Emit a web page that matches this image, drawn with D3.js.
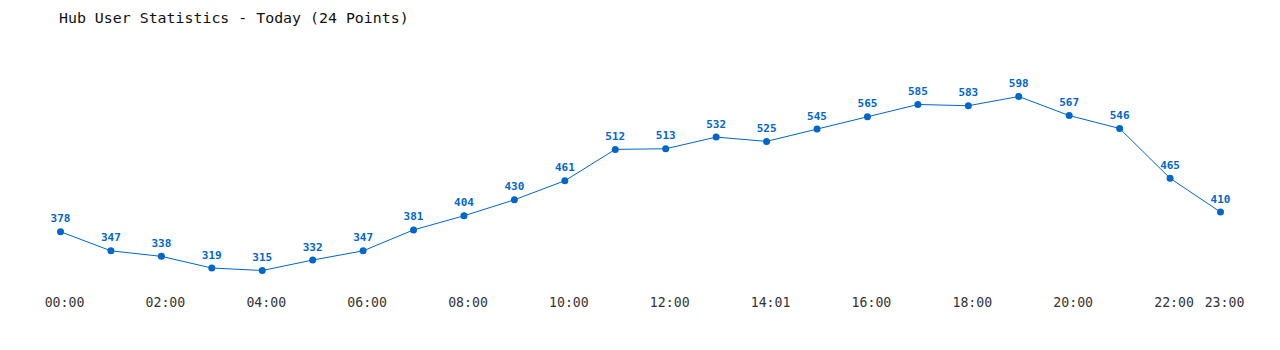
<!DOCTYPE html>
<html>
<head>
<meta charset="utf-8">
<script src="https://cdn.jsdelivr.net/npm/d3@7"></script>
<style>
  body { margin: 0; background: #fff; }
  svg { display: block; }
</style>
</head>
<body>
<svg id="chart" width="1280" height="350"></svg>
<script>
var hours = ['00:00','01:00','02:00','03:00','04:00','05:00','06:00','07:00','08:00','09:00','10:00','11:00',
             '12:00','13:00','14:01','15:00','16:00','17:00','18:00','19:00','20:00','21:00','22:00','23:00'];
var users = [378, 347, 338, 319, 315, 332, 347, 381, 404, 430, 461, 512,
             513, 532, 525, 545, 565, 585, 583, 598, 567, 546, 465, 410];
var tickHours = ['00:00','02:00','04:00','06:00','08:00','10:00','12:00','14:01','16:00','18:00','20:00','22:00','23:00'];

var svg = d3.select('#chart'),
    blue = '#0066cc';

var x = d3.scalePoint()
    .domain(hours)
    .range([60.5, 1220.5]);

var y = d3.scaleLinear()
    .domain(d3.extent(users))
    .range([270.5, 96.5]);

svg.append('text')
    .attr('x', 59)
    .attr('y', 23)
    .attr('font-family', 'DejaVu Sans Mono, monospace')
    .attr('font-size', 14.9)
    .attr('fill', '#111')
    .text('Hub User Statistics - Today (24 Points)');

// x axis labels only, no line
var axis = svg.append('g')
    .attr('transform', 'translate(0,290)')
    .call(d3.axisBottom(x).tickValues(tickHours).tickSize(0).tickPadding(8));
axis.select('.domain').remove();
axis.selectAll('text')
    .attr('dx', 3.5)
    .attr('font-family', 'DejaVu Sans Mono, monospace')
    .attr('font-size', 13.2)
    .attr('fill', '#333');

var line = d3.line()
    .x(function(d, i) { return x(hours[i]); })
    .y(function(d) { return y(d); });

svg.append('path')
    .datum(users)
    .attr('fill', 'none')
    .attr('stroke', blue)
    .attr('stroke-width', 1)
    .attr('d', line);

svg.append('g')
    .selectAll('circle')
    .data(users)
    .enter().append('circle')
      .attr('cx', function(d, i) { return x(hours[i]); })
      .attr('cy', function(d) { return y(d); })
      .attr('r', 3.5)
      .attr('fill', blue);

svg.append('g')
    .attr('font-family', 'DejaVu Sans Mono, monospace')
    .attr('font-size', 11)
    .attr('font-weight', 'bold')
    .attr('fill', blue)
    .attr('text-anchor', 'middle')
    .selectAll('text')
    .data(users)
    .enter().append('text')
      .attr('x', function(d, i) { return x(hours[i]); })
      .attr('y', function(d) { return y(d) - 9.5; })
      .text(function(d) { return d; });
</script>
</body>
</html>
